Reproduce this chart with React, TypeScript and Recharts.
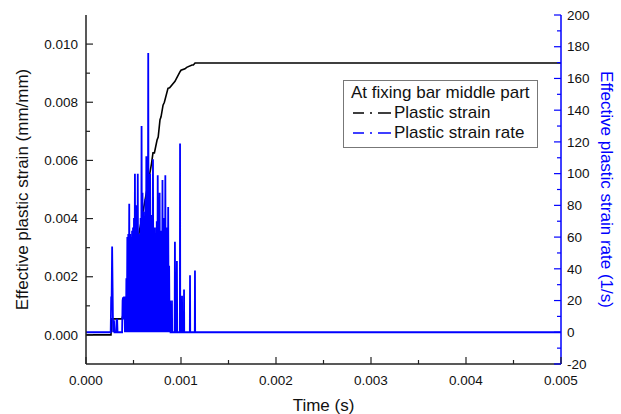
import { LineChart, Line, XAxis, YAxis } from "recharts";

// plastic strain at the fixing bar middle part: [time (µs), strain (mm/mm)]
const strainPoints: [number, number][] = [
  [0, 0], [263, 0], [270, 0.00055], [379, 0.00055], [432, 0.00125], [500, 0.0024],
  [558, 0.0035], [620, 0.0046], [674, 0.0056], [690, 0.0059], [705, 0.00626], [720, 0.00626],
  [748, 0.0067], [760, 0.0068], [779, 0.0074], [790, 0.0075], [811, 0.0079], [825, 0.008],
  [863, 0.00848], [880, 0.0085], [937, 0.00872], [950, 0.0088], [990, 0.00905], [1000, 0.0091],
  [1042, 0.00915], [1060, 0.0092], [1116, 0.00928], [1130, 0.00928], [1148, 0.00935], [5000, 0.00935],
];

// plastic strain rate: [time (µs), rate (1/s)]
const ratePoints: [number, number][] = [
  [0, 0], [260, 0], [265, 22], [270, 22], [275, 54], [280, 28], [285, 0], [290, 7], [295, 7], [300, 0],
  [318, 0], [322, 8], [328, 8], [332, 0], [380, 0], [385, 20], [390, 22], [395, 8], [400, 22], [405, 22],
  [410, 0], [415, 6], [420, 0], [425, 34], [430, 0], [435, 60], [440, 0], [445, 62], [450, 0], [455, 81],
  [460, 0], [465, 62], [470, 0], [475, 60], [480, 0], [485, 64], [490, 0], [495, 66], [500, 0], [505, 72],
  [510, 0], [515, 100], [520, 0], [525, 68], [530, 0], [535, 80], [540, 0], [545, 100], [550, 0], [555, 62],
  [560, 0], [565, 40], [570, 0], [575, 72], [580, 0], [585, 130], [590, 0], [595, 88], [600, 0], [605, 76],
  [610, 0], [615, 70], [620, 0], [625, 84], [630, 0], [635, 111], [640, 0], [645, 76], [650, 0], [655, 176],
  [660, 0], [665, 70], [670, 0], [675, 100], [680, 0], [685, 64], [690, 0], [695, 74], [700, 0], [705, 109],
  [710, 0], [715, 60], [720, 0], [725, 66], [730, 0], [735, 44], [740, 0], [745, 70], [750, 0], [755, 99],
  [760, 0], [765, 62], [770, 0], [775, 88], [780, 0], [785, 54], [790, 0], [795, 64], [800, 0], [805, 96],
  [810, 0], [815, 60], [820, 0], [825, 72], [830, 0], [835, 99], [840, 0], [845, 56], [850, 0], [855, 66],
  [860, 0], [865, 79], [870, 0], [875, 42], [880, 0], [885, 20], [890, 0], [903, 0], [905, 20], [907, 0],
  [933, 0], [936, 57], [940, 0], [954, 0], [957, 45], [960, 0], [988, 0], [990, 119], [992, 0], [1009, 0],
  [1011, 23], [1013, 0], [1030, 0], [1032, 27], [1034, 0], [1093, 0], [1095, 36], [1097, 0], [1145, 0], [1147, 39],
  [1149, 0], [5000, 0],
];

const timeTicks = [0, 0.0005, 0.001, 0.0015, 0.002, 0.0025, 0.003, 0.0035, 0.004, 0.0045, 0.005];
const strainTicks = [0, 0.001, 0.002, 0.003, 0.004, 0.005, 0.006, 0.007, 0.008, 0.009, 0.01];
const rateTicks = [-20, -10, 0, 10, 20, 30, 40, 50, 60, 70, 80, 90, 100, 110, 120, 130, 140, 150, 160, 170, 180, 190, 200];

const legendTitle = "At fixing bar middle part";
const strainName = "Plastic strain";
const rateName = "Plastic strain rate";

const strainData = strainPoints.map(([us, v]) => ({ t: us / 1e6, strain: v }));
const rateData = ratePoints.map(([us, v]) => ({ t: us / 1e6, rate: v }));

const BLUE = "#0000ff";
const AXIS = "#222";

function LeftTick({ x, y, payload }: any) {
  const v = payload.value;
  const major = Math.round(v * 1000) % 2 === 0;
  return (
    <g>
      <line x1={x} y1={y} x2={x + (major ? 7 : 4)} y2={y} stroke={AXIS} strokeWidth={1.2} />
      {major && (
        <text x={x - 8} y={y} dy="0.35em" textAnchor="end" fontSize={13.5} fill="#111">
          {v.toFixed(3)}
        </text>
      )}
    </g>
  );
}

function RightTick({ x, y, payload }: any) {
  const v = payload.value;
  const major = v % 20 === 0;
  return (
    <g>
      <line x1={x} y1={y} x2={x - (major ? 7 : 4)} y2={y} stroke={BLUE} strokeWidth={1.2} />
      {major && (
        <text x={x + 6} y={y} dy="0.35em" textAnchor="start" fontSize={13.5} fill="#111">
          {v}
        </text>
      )}
    </g>
  );
}

function BottomTick({ x, y, payload }: any) {
  const v = payload.value;
  const major = Math.round(v * 2000) % 2 === 0;
  return (
    <g>
      <line x1={x} y1={y} x2={x} y2={y - (major ? 7 : 4)} stroke={AXIS} strokeWidth={1.2} />
      {major && (
        <text x={x} y={y + 11} dy="0.71em" textAnchor="middle" fontSize={13.5} fill="#111">
          {v.toFixed(3)}
        </text>
      )}
    </g>
  );
}

function LeftTitle({ viewBox }: any) {
  const cx = viewBox.x + 22;
  const cy = viewBox.y + viewBox.height / 2;
  return (
    <text x={cx} y={cy} transform={`rotate(-90 ${cx} ${cy})`} textAnchor="middle" dominantBaseline="central" fontSize={17} fill="#111">
      Effective plastic strain (mm/mm)
    </text>
  );
}

function RightTitle({ viewBox }: any) {
  const cx = viewBox.x + 45;
  const cy = viewBox.y + viewBox.height / 2;
  return (
    <text x={cx} y={cy} transform={`rotate(90 ${cx} ${cy})`} textAnchor="middle" dominantBaseline="central" fontSize={17} fill={BLUE}>
      Effective plastic strain rate (1/s)
    </text>
  );
}

function BottomTitle({ viewBox }: any) {
  const cx = viewBox.x + viewBox.width / 2;
  const cy = viewBox.y + 41;
  return (
    <text x={cx} y={cy} textAnchor="middle" dominantBaseline="central" fontSize={17} fill="#111">
      Time (s)
    </text>
  );
}

function LegendRow({ color, label }: { color: string; label: string }) {
  return (
    <div style={{ display: "flex", alignItems: "center", height: 20 }}>
      <svg width={42} height={20} style={{ display: "block" }}>
        <line x1={2} y1={10} x2={40} y2={10} stroke={color} strokeWidth={1.6} strokeDasharray="11 6 2 6 13" />
      </svg>
      <span style={{ marginLeft: 1 }}>{label}</span>
    </div>
  );
}

export default function App() {
  return (
    <div
      style={{
        position: "absolute",
        left: 0,
        top: 0,
        width: 621,
        height: 414,
        background: "#fff",
        fontFamily: "'Liberation Sans', Arial, sans-serif",
      }}
    >
      <LineChart width={621} height={414} margin={{ top: 15, right: 0, bottom: 0, left: 0 }}>
        <XAxis
          dataKey="t"
          type="number"
          domain={[0, 0.005]}
          ticks={timeTicks}
          interval={0}
          height={50}
          tickSize={0}
          tickMargin={0}
          tickLine={false}
          tick={<BottomTick />}
          axisLine={{ stroke: AXIS, strokeWidth: 1.5 }}
          allowDataOverflow
          label={<BottomTitle />}
        />
        <XAxis
          xAxisId="top"
          orientation="top"
          type="number"
          domain={[0, 0.005]}
          height={0}
          tick={false}
          tickLine={false}
          axisLine={{ stroke: AXIS, strokeWidth: 1.5 }}
        />
        <YAxis
          yAxisId="left"
          type="number"
          domain={[-0.001, 0.011]}
          ticks={strainTicks}
          interval={0}
          width={86}
          tickSize={0}
          tickMargin={0}
          tickLine={false}
          tick={<LeftTick />}
          axisLine={{ stroke: AXIS, strokeWidth: 1.5 }}
          allowDataOverflow
          label={<LeftTitle />}
        />
        <YAxis
          yAxisId="right"
          orientation="right"
          type="number"
          domain={[-20, 200]}
          ticks={rateTicks}
          interval={0}
          width={60}
          tickSize={0}
          tickMargin={0}
          tickLine={false}
          tick={<RightTick />}
          axisLine={{ stroke: BLUE, strokeWidth: 1.5 }}
          allowDataOverflow
          label={<RightTitle />}
        />
        <Line
          yAxisId="left"
          data={strainData}
          dataKey="strain"
          name={strainName}
          type="linear"
          stroke="#000"
          strokeWidth={1.6}
          dot={false}
          isAnimationActive={false}
        />
        <Line
          yAxisId="right"
          data={rateData}
          dataKey="rate"
          name={rateName}
          type="linear"
          stroke={BLUE}
          strokeWidth={1.8}
          dot={false}
          isAnimationActive={false}
        />
      </LineChart>
      <div
        style={{
          position: "absolute",
          left: 343,
          top: 80,
          width: 195,
          height: 68,
          boxSizing: "border-box",
          border: "1px solid #777",
          background: "#fff",
          padding: "2px 0 0 7px",
          fontSize: 17,
          color: "#111",
          lineHeight: "20px",
        }}
      >
        <div style={{ height: 20 }}>{legendTitle}</div>
        <LegendRow color="#000" label={strainName} />
        <LegendRow color={BLUE} label={rateName} />
      </div>
    </div>
  );
}
